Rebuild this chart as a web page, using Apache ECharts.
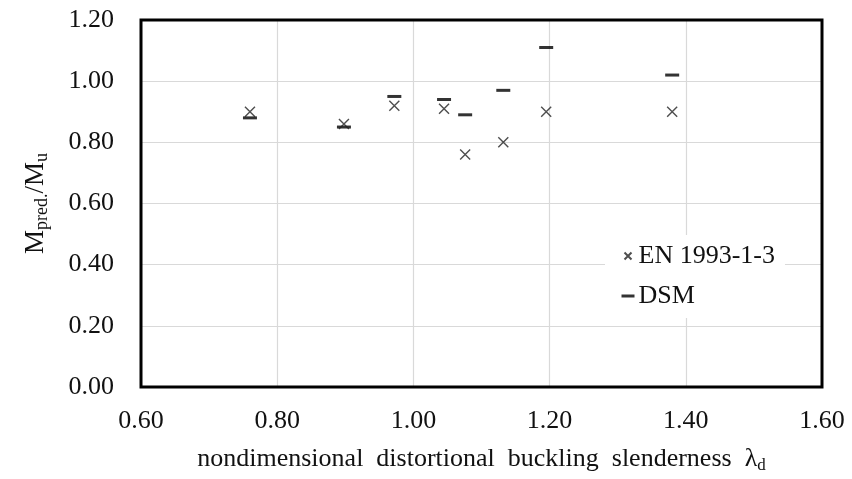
<!DOCTYPE html>
<html>
<head>
<meta charset="utf-8">
<script src="https://cdn.jsdelivr.net/npm/echarts@6/dist/echarts.min.js"></script>
<style>
  html, body { margin: 0; padding: 0; background: #fff; }
  #chart { width: 852px; height: 479px; }
</style>
</head>
<body>
<div id="chart"></div>
<script>
// slenderness values (x) shared by both methods
var slenderness = [0.76, 0.898, 0.972, 1.045, 1.076, 1.132, 1.195, 1.38];
var enValues = [0.90, 0.86, 0.92, 0.91, 0.76, 0.80, 0.90, 0.90];
var dsmValues = [0.88, 0.85, 0.95, 0.94, 0.89, 0.97, 1.11, 1.02];
var seriesNames = ['EN 1993-1-3', 'DSM'];

var font = 'Liberation Serif';
var ink = '#111';

function pairs(xs, ys) {
    return xs.map(function (x, i) { return [x, ys[i]]; });
}

var crossPath = 'path://M0,0L10,10M10,0L0,10';
var crossIcon = 'path://M0,0M12,12M2.5,2.5L9.5,9.5M9.5,2.5L2.5,9.5';
var dashIcon = 'path://M0,0M13,12M0,4.5L13,4.5L13,7.5L0,7.5Z';

var myChart = echarts.init(document.getElementById('chart'));

var option = {
    animation: false,
    backgroundColor: '#fff',
    textStyle: { fontFamily: font, color: ink },
    grid: {
        left: 141, right: 30, top: 20, bottom: 90,
        show: true,
        z: 5,
        borderColor: '#000',
        borderWidth: 3,
        backgroundColor: 'transparent'
    },
    legend: {
        left: 605,
        top: 235,
        orient: 'vertical',
        backgroundColor: '#fff',
        padding: [8, 10, 9, 16],
        itemGap: 14,
        itemWidth: 13,
        itemHeight: 12,
        textStyle: { fontFamily: font, fontSize: 26, color: ink, padding: [0, 0, 0, -1] },
        data: [
            { name: seriesNames[0], icon: crossIcon },
            { name: seriesNames[1], icon: dashIcon }
        ]
    },
    xAxis: {
        type: 'value',
        min: 0.6,
        max: 1.6,
        interval: 0.2,
        axisLine: { show: false },
        axisTick: { show: false },
        axisLabel: {
            fontFamily: font, fontSize: 26, color: ink, margin: 21,
            formatter: function (v) { return v.toFixed(2); }
        },
        splitLine: { showMinLine: false, showMaxLine: false, lineStyle: { color: '#d9d9d9', width: 1.2 } },
        name: '{t|nondimensional  distortional  buckling  slenderness  λ}{s|d}',
        nameLocation: 'middle',
        nameGap: 57,
        nameTextStyle: {
            rich: {
                t: { fontFamily: font, fontSize: 26, color: ink, lineHeight: 30 },
                s: { fontFamily: font, fontSize: 17, color: ink, lineHeight: 14, verticalAlign: 'bottom' }
            }
        }
    },
    yAxis: {
        type: 'value',
        min: 0,
        max: 1.2,
        interval: 0.2,
        axisLine: { show: false },
        axisTick: { show: false },
        axisLabel: {
            fontFamily: font, fontSize: 26, color: ink, margin: 27,
            formatter: function (v) { return v.toFixed(2); }
        },
        splitLine: { showMinLine: false, showMaxLine: false, lineStyle: { color: '#d9d9d9', width: 1.2 } },
        name: '{t|M}{s|pred.}{t|/M}{s|u}',
        nameLocation: 'middle',
        nameRotate: 90,
        nameGap: 90,
        nameTextStyle: {
            rich: {
                t: { fontFamily: font, fontSize: 27, color: ink, lineHeight: 30 },
                s: { fontFamily: font, fontSize: 18, color: ink, lineHeight: 14, verticalAlign: 'bottom' }
            }
        }
    },
    series: [
        {
            name: seriesNames[0],
            type: 'scatter',
            symbol: crossPath,
            symbolSize: 10,
            itemStyle: { color: 'rgba(0,0,0,0)', borderColor: '#222', borderWidth: 1.4 },
            data: pairs(slenderness, enValues),
            z: 3
        },
        {
            name: seriesNames[1],
            type: 'scatter',
            symbol: 'rect',
            symbolSize: [14, 3],
            itemStyle: { color: '#000' },
            data: pairs(slenderness, dsmValues),
            z: 2
        }
    ]
};

myChart.setOption(option);
</script>
</body>
</html>
